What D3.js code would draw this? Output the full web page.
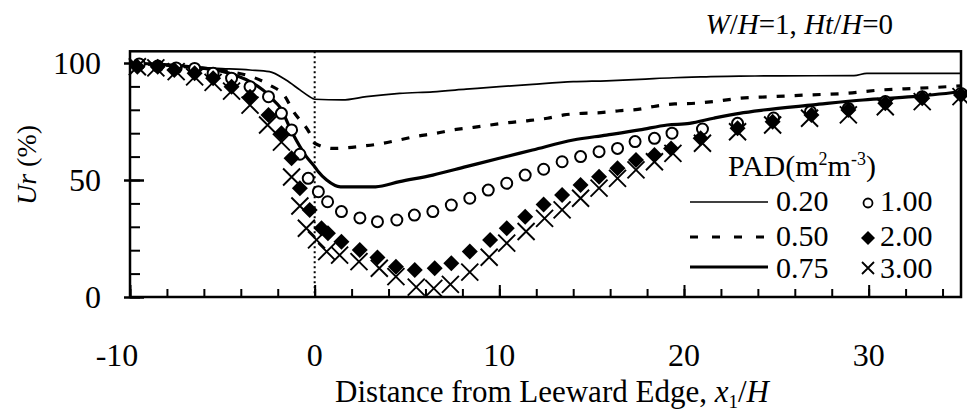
<!DOCTYPE html>
<html>
<head>
<meta charset="utf-8">
<script src="https://cdn.jsdelivr.net/npm/d3@7"></script>
<style>
  html, body { margin: 0; padding: 0; background: #fff; }
  svg { display: block; }
  text { font-family: "Liberation Serif", "Times New Roman", serif; fill: #000; }
</style>
</head>
<body>
<svg id="chart" width="967" height="414"></svg>
<script>
// Wind speed ratio Ur (%) behind a shelterbelt for several plant area densities
const xTicksMajor = [-10, 0, 10, 20, 30];
const yTicksMajor = [0, 50, 100];

// PAD 0.20 (thin solid line)
const pad020X = [-10, -5.3, -3.5, -2.45, -1.55, -0.8, -0.27, 0, 1.5, 2.8, 4.6, 6.4, 8.2, 10, 11.8, 14, 15.8, 17.6, 19.4, 21.2, 23, 25.2, 29.2, 29.9, 35];
const pad020Y = [100, 97.7, 97, 96.3, 92.7, 88.5, 85.6, 84.5, 84.2, 85.6, 87, 87.7, 88.8, 89.9, 90.9, 92, 92.4, 93, 93.7, 94.1, 94.4, 94.5, 94.6, 95.6, 95.6];

// PAD 0.50 (dashed line)
const pad050X = [-10, -6.5, -4.5, -3.4, -2.45, -1.6, -1.2, -0.27, 0, 1, 2.6, 3.5, 4.4, 5.4, 6.6, 7.5, 8.6, 9.5, 10.5, 11.5, 12.6, 13.5, 14.5, 15.5, 16.5, 17.5, 18.5, 19.5, 20.6, 22, 23, 24.7, 26.6, 28.7, 30.7, 32.7, 35];
const pad050Y = [100, 98, 96.2, 94.1, 90.6, 85.6, 79.9, 70, 65.7, 63.5, 64.5, 65.4, 66.8, 68.5, 70, 71.4, 72.5, 73.5, 74.5, 75.3, 76.4, 77.8, 78.5, 78.8, 79.6, 80.2, 81.6, 82.5, 82.8, 83.9, 84.9, 85.6, 86.3, 87, 88.5, 89.2, 90.2];

// PAD 0.75 (thick solid line)
const pad075X = [-10, -5.9, -2.8, -2.25, -1.9, -1.2, -0.45, 0, 0.2, 0.65, 1.4, 3.3, 4.6, 6.4, 8.2, 10, 11.8, 14, 15.8, 17.6, 19.1, 20.3, 21.6, 23, 24.3, 27, 29.7, 32.4, 35];
const pad075Y = [100, 97.7, 88.5, 84.2, 81.3, 70, 60, 55.7, 53.5, 50, 47.1, 47.1, 49.3, 52.1, 55.7, 59.3, 62.8, 67.1, 69.2, 71.4, 73.5, 74.2, 76.4, 78.5, 79.9, 82.1, 84.2, 85.6, 87.7];

// PAD 1.00 (open circles)
const pad100X = [-9.5, -8.5, -7.5, -6.5, -5.5, -4.5, -3.5, -2.5, -1.8, -1.25, -0.8, -0.35, 0.2, 0.7, 1.45, 2.45, 3.4, 4.45, 5.4, 6.4, 7.4, 8.4, 9.4, 10.4, 11.4, 12.4, 13.4, 14.4, 15.4, 16.4, 17.35, 18.4, 19.35, 21, 22.9, 24.85, 26.85, 28.9, 30.9, 32.9, 35];
const pad100Y = [99.6, 98.7, 97.9, 97.7, 95.6, 93.5, 89.9, 85.6, 78.5, 71.4, 61, 50.7, 45, 40.7, 36.5, 33.8, 32.2, 32.9, 35, 36.5, 39.3, 42.2, 45.7, 48.6, 52.1, 54.6, 57.8, 60, 62.1, 63.5, 66.4, 67.8, 70, 71.8, 74.2, 76.5, 79.2, 80.6, 83.5, 85.6, 87];

// PAD 2.00 (filled diamonds)
const pad200X = [-9.6, -8.5, -7.6, -6.5, -5.5, -4.5, -3.5, -2.5, -1.8, -1.25, -0.8, -0.27, 0.37, 0.72, 1.45, 2.44, 3.4, 4.4, 5.42, 6.5, 7.4, 8.4, 9.5, 10.4, 11.4, 12.4, 13.4, 14.4, 15.4, 16.4, 17.4, 18.4, 19.3, 20.9, 22.9, 24.8, 26.9, 28.9, 30.9, 32.9, 35];
const pad200Y = [98.4, 98.4, 97, 95.6, 93.5, 89.9, 85.6, 77.8, 70, 59.3, 46.5, 37.2, 29.4, 27.2, 23.6, 20.1, 16.9, 12.9, 11.5, 12.3, 14.4, 19.4, 24.4, 29.4, 34.3, 39.5, 43.6, 47.9, 51.4, 55, 58.5, 60.7, 63.5, 67.8, 72.1, 74.9, 77.8, 79.9, 82.8, 84.9, 86.3];

// PAD 3.00 (crosses)
const pad300X = [-9.6, -8.6, -7.5, -6.5, -5.5, -4.5, -3.5, -2.55, -1.8, -1.25, -0.8, -0.45, 0.1, 0.65, 1.35, 2.4, 3.5, 4.4, 5.5, 6.45, 7.35, 8.4, 9.45, 10.4, 11.45, 12.45, 13.4, 14.4, 15.4, 16.4, 17.4, 18.4, 19.4, 21, 22.9, 24.8, 26.8, 28.9, 30.9, 32.9, 35];
const pad300Y = [98.4, 97.9, 96.3, 94.1, 91.7, 88, 82, 73.5, 66.2, 51.3, 38.9, 29.4, 24.4, 19.4, 17.9, 15.1, 12.3, 8.7, 4.2, 3.7, 5.4, 10.6, 17, 23, 28, 33.6, 37.2, 42.2, 46.5, 50.7, 54.3, 57.8, 61.4, 65.7, 70.6, 73.5, 76.4, 77.8, 81.3, 83.5, 85.6];

const svg = d3.select("#chart");
const plotL = 130, plotR = 961, plotT = 51.3, plotB = 297;

const x = d3.scaleLinear().domain([-10, 35]).range([plotL, plotR]);
const y = d3.scaleLinear().domain([0, 105]).range([plotB, plotT]);

svg.append("rect").attr("width", 967).attr("height", 414).attr("fill", "#fff");

// frame
svg.append("rect")
  .attr("x", plotL).attr("y", plotT)
  .attr("width", plotR - plotL).attr("height", plotB - plotT)
  .attr("fill", "none").attr("stroke", "#000").attr("stroke-width", 2.5);

// inward ticks on the bottom axis
const xMinor = d3.range(-10, 36, 2);
svg.append("g").attr("transform", `translate(0,${plotB})`)
  .call(d3.axisBottom(x).tickValues(xMinor).tickSize(-8).tickFormat(""))
  .call(g => g.select(".domain").remove())
  .call(g => g.selectAll("line").attr("stroke-width", 2));
svg.append("g").attr("transform", `translate(0,${plotB})`)
  .call(d3.axisBottom(x).tickValues(xTicksMajor).tickSize(-12).tickFormat(""))
  .call(g => g.select(".domain").remove())
  .call(g => g.selectAll("line").attr("stroke-width", 2));

// x tick labels
svg.append("g").selectAll("text").data(xTicksMajor).join("text")
  .attr("x", d => x(d) + (d < 0 ? -13 : 0))
  .attr("y", 366)
  .attr("text-anchor", "middle")
  .attr("font-size", 32)
  .text(d => d);

// inward ticks on the left axis
const yMinor = d3.range(0, 101, 10);
svg.append("g").attr("transform", `translate(${plotL},0)`)
  .call(d3.axisLeft(y).tickValues(yMinor).tickSize(-10).tickFormat(""))
  .call(g => g.select(".domain").remove())
  .call(g => g.selectAll("line").attr("stroke-width", 2));
svg.append("g").attr("transform", `translate(${plotL},0)`)
  .call(d3.axisLeft(y).tickValues(yTicksMajor).tickSize(-14).tickFormat(""))
  .call(g => g.select(".domain").remove())
  .call(g => g.selectAll("line").attr("stroke-width", 2.5).attr("x1", -6));

svg.append("g").selectAll("text").data(yTicksMajor).join("text")
  .attr("x", 101)
  .attr("y", d => y(d))
  .attr("dy", "0.35em")
  .attr("text-anchor", "end")
  .attr("font-size", 32)
  .text(d => d);

// leeward edge
svg.append("line")
  .attr("x1", x(0)).attr("x2", x(0)).attr("y1", plotT).attr("y2", plotB)
  .attr("stroke", "#000").attr("stroke-width", 2).attr("stroke-dasharray", "2,3");

// line series
const lineGen = d3.line().x(d => x(d[0])).y(d => y(d[1])).curve(d3.curveMonotoneX);
const lineSeries = [
  { xs: pad020X, ys: pad020Y, w: 1.7, dash: null },
  { xs: pad050X, ys: pad050Y, w: 3.2, dash: "8,10" },
  { xs: pad075X, ys: pad075Y, w: 3.2, dash: null }
];
lineSeries.forEach(s => {
  svg.append("path")
    .datum(d3.zip(s.xs, s.ys))
    .attr("d", lineGen)
    .attr("fill", "none")
    .attr("stroke", "#000")
    .attr("stroke-width", s.w)
    .attr("stroke-dasharray", s.dash);
});

// marker shapes
function diamondPath(s) { return `M0,${-s}L${s},0L0,${s}L${-s},0Z`; }
function crossPath(s) { return `M${-s},${-s}L${s},${s}M${-s},${s}L${s},${-s}`; }

svg.append("g").selectAll("circle").data(d3.zip(pad100X, pad100Y)).join("circle")
  .attr("cx", d => x(d[0])).attr("cy", d => y(d[1])).attr("r", 5.5)
  .attr("fill", "#fff").attr("stroke", "#000").attr("stroke-width", 2);

svg.append("g").selectAll("path").data(d3.zip(pad200X, pad200Y)).join("path")
  .attr("transform", d => `translate(${x(d[0])},${y(d[1])})`)
  .attr("d", diamondPath(8))
  .attr("fill", "#000");

svg.append("g").selectAll("path").data(d3.zip(pad300X, pad300Y)).join("path")
  .attr("transform", d => `translate(${x(d[0])},${y(d[1])})`)
  .attr("d", crossPath(8.5))
  .attr("fill", "none").attr("stroke", "#000").attr("stroke-width", 1.9);

// legend
const lg = svg.append("g");
const pad = lg.append("text").attr("x", 728).attr("y", 176).attr("font-size", 30);
pad.append("tspan").text("PAD(m");
pad.append("tspan").attr("font-size", 18).attr("dy", -11).text("2");
pad.append("tspan").attr("dy", 11).text("m");
pad.append("tspan").attr("font-size", 18).attr("dy", -11).text("-3");
pad.append("tspan").attr("dy", 11).text(")");

const rows = [
  { label: "0.20", w: 1.7, dash: null, ly: 202, ty: 211, mk: "circle", mlabel: "1.00" },
  { label: "0.50", w: 3.2, dash: "8,14", ly: 237, ty: 246, mk: "diamond", mlabel: "2.00" },
  { label: "0.75", w: 3.2, dash: null, ly: 267, ty: 278, mk: "cross", mlabel: "3.00" }
];
rows.forEach(r => {
  lg.append("line").attr("x1", 690).attr("x2", 768).attr("y1", r.ly).attr("y2", r.ly)
    .attr("stroke", "#000").attr("stroke-width", r.w).attr("stroke-dasharray", r.dash);
  lg.append("text").attr("x", 776).attr("y", r.ty).attr("font-size", 30).text(r.label);
  const my = r.ly + 1;
  if (r.mk === "circle") {
    lg.append("circle").attr("cx", 868).attr("cy", my).attr("r", 4.5)
      .attr("fill", "#fff").attr("stroke", "#000").attr("stroke-width", 1.8);
  } else if (r.mk === "diamond") {
    lg.append("path").attr("transform", `translate(868,${my})`).attr("d", diamondPath(7)).attr("fill", "#000");
  } else {
    lg.append("path").attr("transform", `translate(868,${my})`).attr("d", crossPath(6))
      .attr("fill", "none").attr("stroke", "#000").attr("stroke-width", 1.8);
  }
  lg.append("text").attr("x", 880).attr("y", r.ty).attr("font-size", 30).text(r.mlabel);
});

// panel condition
const title = svg.append("text").attr("x", 893).attr("y", 34).attr("text-anchor", "end").attr("font-size", 29);
title.append("tspan").attr("font-style", "italic").text("W");
title.append("tspan").text("/");
title.append("tspan").attr("font-style", "italic").text("H");
title.append("tspan").text("=1, ");
title.append("tspan").attr("font-style", "italic").text("Ht");
title.append("tspan").text("/");
title.append("tspan").attr("font-style", "italic").text("H");
title.append("tspan").text("=0");

// axis titles
const xl = svg.append("text").attr("x", 552).attr("y", 402).attr("text-anchor", "middle").attr("font-size", 31);
xl.append("tspan").text("Distance from Leeward Edge, ");
xl.append("tspan").attr("font-style", "italic").text("x");
xl.append("tspan").attr("font-size", 19).attr("dy", 6).text("1");
xl.append("tspan").attr("dy", -6).text("/");
xl.append("tspan").attr("font-style", "italic").text("H");

const yl = svg.append("text")
  .attr("transform", "translate(36,165) rotate(-90)")
  .attr("text-anchor", "middle").attr("font-size", 28);
yl.append("tspan").attr("font-style", "italic").text("Ur");
yl.append("tspan").text(" (%)");
</script>
</body>
</html>
